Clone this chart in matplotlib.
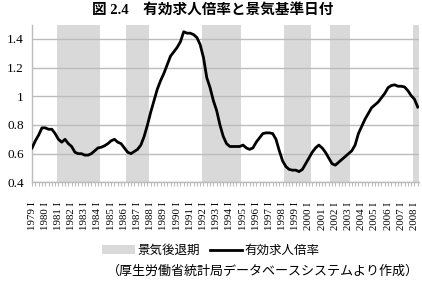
import matplotlib
matplotlib.use("Agg")
import matplotlib.pyplot as plt

# Fuentes: cifras con serif, japonés con Noto CJK
plt.rcParams['font.family'] = ['Liberation Serif', 'Noto Sans CJK JP']

# Datos trimestrales 1979 I - 2008 II
anio_inicio = 1979
ratio = [
    0.64, 0.69, 0.73, 0.78, 0.78, 0.77, 0.77, 0.74, 0.70, 0.68,
    0.70, 0.67, 0.65, 0.61, 0.60, 0.60, 0.59, 0.59, 0.60, 0.62,
    0.64, 0.645, 0.655, 0.67, 0.69, 0.70, 0.68, 0.67, 0.64, 0.61,
    0.60, 0.615, 0.63, 0.66, 0.72, 0.80, 0.89, 0.97, 1.05, 1.11,
    1.16, 1.22, 1.28, 1.31, 1.34, 1.38, 1.45, 1.44, 1.44, 1.43,
    1.41, 1.36, 1.27, 1.13, 1.06, 0.97, 0.90, 0.80, 0.72, 0.67,
    0.65, 0.65, 0.65, 0.65, 0.66, 0.64, 0.63, 0.64, 0.68, 0.71,
    0.74, 0.745, 0.745, 0.74, 0.70, 0.62, 0.55, 0.51, 0.49, 0.485,
    0.485, 0.475, 0.49, 0.53, 0.57, 0.61, 0.64, 0.66, 0.64, 0.61,
    0.57, 0.53, 0.52, 0.54, 0.56, 0.58, 0.60, 0.62, 0.66, 0.74,
    0.79, 0.84, 0.88, 0.92, 0.94, 0.96, 0.99, 1.02, 1.06, 1.075,
    1.08, 1.07, 1.07, 1.065, 1.04, 1.005, 0.98, 0.925,
]

# Periodos de recesión (índice de trimestre inicial y final)
recesion_inicio = [8, 29, 52, 77, 91, 116]
recesion_fin = [20, 35, 63, 84, 96, 117]

n = len(ratio)
x = list(range(n))
etiquetas = [f"{anio_inicio + i // 4} I" if i % 4 == 0 else "" for i in x]

# Serie de barras para las recesiones
ymin, ymax = 0.4, 1.5
recesion = [0.0] * n
for a, b in zip(recesion_inicio, recesion_fin):
    for i in range(a, b + 1):
        recesion[i] = ymax - ymin

fig = plt.figure(figsize=(4.22, 2.89), dpi=100)
ax = fig.add_axes([0.076, 0.369, 0.917, 0.546])

barras = ax.bar(x, recesion, width=1.0, bottom=ymin, color='#d9d9d9',
                linewidth=0, label='景気後退期', zorder=1)
linea, = ax.plot(x, ratio, color='black', linewidth=2.0,
                 label='有効求人倍率', zorder=3)

# Ejes y rejilla
ax.set_xlim(0, n - 0.6)
ax.set_ylim(ymin, ymax)
ax.set_yticks([0.4, 0.6, 0.8, 1.0, 1.2, 1.4])
ax.set_yticklabels(['0.4', '0.6', '0.8', '1', '1.2', '1.4'], fontsize=9.5)
ax.yaxis.grid(True, color='#bcbcbc', linewidth=1.0)
for linea_grid in ax.get_ygridlines():
    linea_grid.set_zorder(2)
ax.set_xticks(x)
ax.set_xticklabels(etiquetas, rotation=90, fontsize=7.8)
ax.tick_params(axis='x', length=3, color='#bcbcbc', pad=11)
ax.tick_params(axis='y', length=0, pad=6)
for lado in ['top', 'right']:
    ax.spines[lado].set_visible(False)
for lado in ['left', 'bottom']:
    ax.spines[lado].set_color('#bcbcbc')
    ax.spines[lado].set_linewidth(1.0)

# Título, leyenda y fuente
fig.text(0.503, 0.965, '図 2.4　有効求人倍率と景気基準日付', ha='center', va='center',
         fontsize=10.5, fontweight='bold')
fig.legend(handles=[barras, linea], loc='center', bbox_to_anchor=(0.5, 0.131),
           ncol=2, frameon=False, fontsize=9, handlelength=2.6,
           handletextpad=0.2, columnspacing=0.8)
fig.text(0.992, 0.062, '（厚生労働省統計局データベースシステムより作成）', ha='right',
         va='center', fontsize=9.4)

fig.savefig('out.png', dpi=100)
